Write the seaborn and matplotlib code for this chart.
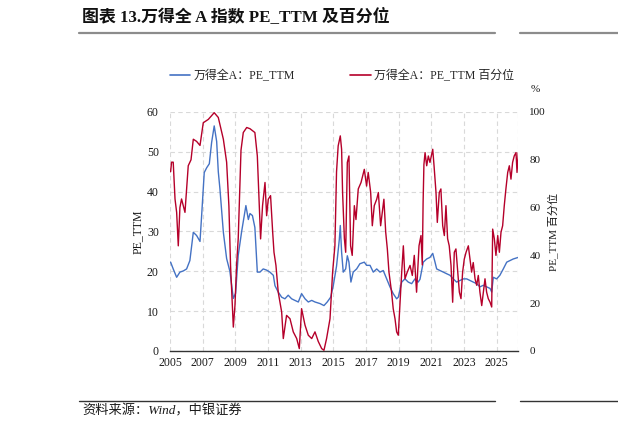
"""
Wind All A index: PE_TTM and its historical percentile (dual axis line chart)
"""
import pandas as pd
import matplotlib
matplotlib.use("Agg")
import matplotlib.pyplot as plt
from matplotlib.lines import Line2D
import seaborn as sns

# -------------------------------------------------------------------
# 1. DATA (x in decimal years)
# -------------------------------------------------------------------
pe_years = [
    2005.04, 2005.20, 2005.41, 2005.61, 2005.82, 2006.02, 2006.22, 2006.43, 2006.63, 2006.84,
    2006.94, 2007.10, 2007.25, 2007.41, 2007.55, 2007.71, 2007.86, 2007.96, 2008.06, 2008.27,
    2008.47, 2008.67, 2008.88, 2009.02, 2009.18, 2009.39, 2009.65, 2009.80, 2009.90, 2010.05,
    2010.20, 2010.35, 2010.51, 2010.71, 2010.92, 2011.12, 2011.33, 2011.43, 2011.63, 2011.84,
    2012.04, 2012.24, 2012.45, 2012.65, 2012.86, 2013.06, 2013.27, 2013.47, 2013.68, 2013.88,
    2014.19, 2014.43, 2014.63, 2014.84, 2015.00, 2015.20, 2015.37, 2015.43, 2015.51, 2015.61,
    2015.76, 2015.86, 2015.96, 2016.08, 2016.22, 2016.43, 2016.63, 2016.90, 2017.04, 2017.25,
    2017.45, 2017.66, 2017.86, 2018.06, 2018.27, 2018.47, 2018.67, 2018.88, 2018.98, 2019.19,
    2019.39, 2019.59, 2019.80, 2020.00, 2020.20, 2020.31, 2020.51, 2020.72, 2020.92, 2021.09,
    2021.23, 2021.33, 2021.53, 2021.74, 2021.94, 2022.15, 2022.35, 2022.55, 2022.76, 2022.96,
    2023.17, 2023.37, 2023.57, 2023.78, 2023.98, 2024.19, 2024.39, 2024.60, 2024.70, 2024.80,
    2025.00, 2025.20, 2025.41, 2025.62, 2025.82, 2026.02, 2026.33,
]
pe_values = [
    22.3, 20.6, 18.5, 19.8, 20.1, 20.6, 22.7, 29.8, 29.0, 27.5,
    34.0, 44.8, 46.0, 47.0, 52.3, 56.5, 52.6, 45.0, 40.7, 29.8,
    23.2, 20.0, 13.2, 14.5, 24.0, 30.0, 36.5, 33.0, 34.5, 34.0,
    31.0, 19.8, 19.8, 20.6, 20.3, 19.8, 19.0, 16.4, 14.8, 13.5,
    13.1, 14.0, 13.1, 12.7, 12.3, 14.4, 13.1, 12.3, 12.7, 12.3,
    11.9, 11.4, 12.3, 13.5, 16.4, 21.3, 28.0, 31.5, 24.8, 19.8,
    20.6, 23.9, 22.3, 17.3, 19.8, 20.6, 21.9, 22.3, 21.5, 21.5,
    19.8, 20.6, 19.8, 20.2, 18.1, 16.1, 14.4, 13.1, 13.5, 17.3,
    18.1, 17.3, 16.9, 18.1, 17.3, 18.0, 22.3, 23.1, 23.5, 24.5,
    22.3, 20.6, 20.2, 19.8, 19.4, 19.0, 18.1, 17.3, 17.7, 18.1,
    18.1, 17.7, 17.3, 16.9, 16.1, 16.5, 16.1, 15.7, 14.8, 18.5,
    18.1, 19.0, 20.6, 22.3, 22.7, 23.1, 23.5,
]

pct_years = [
    2005.04, 2005.10, 2005.20, 2005.31, 2005.41, 2005.51, 2005.61, 2005.71, 2005.92, 2006.02,
    2006.12, 2006.29, 2006.43, 2006.63, 2006.84, 2007.04, 2007.35, 2007.71, 2007.96, 2008.27,
    2008.47, 2008.61, 2008.71, 2008.88, 2008.98, 2009.08, 2009.18, 2009.35, 2009.49, 2009.70,
    2009.90, 2010.20, 2010.35, 2010.47, 2010.55, 2010.67, 2010.82, 2010.92, 2011.02, 2011.16,
    2011.29, 2011.37, 2011.49, 2011.63, 2011.84, 2011.94, 2012.14, 2012.35, 2012.55, 2012.76,
    2012.92, 2013.06, 2013.27, 2013.47, 2013.68, 2013.88, 2014.08, 2014.29, 2014.43, 2014.59,
    2014.80, 2014.96, 2015.10, 2015.20, 2015.30, 2015.43, 2015.51, 2015.57, 2015.68, 2015.76,
    2015.86, 2015.96, 2016.06, 2016.16, 2016.29, 2016.39, 2016.53, 2016.70, 2016.90, 2017.04,
    2017.14, 2017.29, 2017.39, 2017.51, 2017.66, 2017.76, 2017.90, 2018.00, 2018.10, 2018.21,
    2018.31, 2018.41, 2018.57, 2018.67, 2018.78, 2018.88, 2018.98, 2019.08, 2019.19, 2019.29,
    2019.39, 2019.53, 2019.70, 2019.84, 2019.96, 2020.10, 2020.25, 2020.37, 2020.45, 2020.50,
    2020.55, 2020.62, 2020.72, 2020.82, 2020.92, 2021.09, 2021.17, 2021.29, 2021.37, 2021.49,
    2021.59, 2021.70, 2021.80, 2021.90, 2022.00, 2022.10, 2022.21, 2022.31, 2022.41, 2022.51,
    2022.62, 2022.72, 2022.82, 2022.92, 2023.02, 2023.13, 2023.27, 2023.37, 2023.47, 2023.57,
    2023.68, 2023.78, 2023.88, 2023.98, 2024.09, 2024.19, 2024.29, 2024.39, 2024.49, 2024.60,
    2024.70, 2024.76, 2024.86, 2024.96, 2025.07, 2025.17, 2025.27, 2025.37, 2025.47, 2025.57,
    2025.68, 2025.78, 2025.88, 2025.98, 2026.08, 2026.19, 2026.25, 2026.33,
]
pct_values = [
    75.0, 79.0, 79.0, 63.6, 58.0, 44.0, 60.0, 63.6, 58.0, 68.0,
    77.5, 80.0, 88.6, 87.7, 86.0, 95.5, 96.9, 99.7, 97.7, 88.6,
    79.0, 60.6, 35.8, 10.0, 19.0, 35.8, 47.0, 84.0, 91.4, 93.5,
    93.0, 91.4, 81.6, 60.8, 46.9, 60.8, 70.5, 56.6, 63.5, 65.0,
    49.7, 41.3, 35.8, 24.6, 16.3, 5.2, 14.9, 13.5, 8.0, 5.2,
    1.0, 17.7, 10.8, 6.6, 5.2, 8.0, 4.0, 1.0, 0.3, 5.2,
    13.5, 33.0, 44.0, 75.0, 85.8, 90.0, 84.4, 66.3, 47.0, 41.3,
    78.9, 81.6, 44.0, 40.0, 60.8, 55.0, 67.8, 70.5, 76.0, 69.0,
    74.7, 66.3, 52.4, 60.8, 63.5, 66.3, 52.4, 58.0, 63.5, 49.7,
    42.7, 33.0, 24.6, 17.7, 13.5, 8.0, 6.6, 19.0, 33.0, 44.0,
    30.2, 33.0, 35.8, 31.6, 40.0, 24.6, 44.0, 48.3, 36.0, 62.0,
    78.0, 83.0, 77.5, 81.6, 78.9, 84.4, 77.5, 66.3, 53.8, 66.3,
    67.8, 52.4, 48.3, 60.8, 47.0, 44.0, 35.8, 20.4, 41.3, 42.7,
    33.0, 24.6, 21.9, 33.0, 38.4, 41.3, 44.0, 38.4, 33.0, 37.0,
    30.2, 27.5, 31.6, 24.6, 19.0, 24.6, 30.2, 24.6, 21.9, 20.4,
    18.4, 51.0, 47.0, 40.0, 48.3, 41.3, 49.7, 52.4, 60.8, 67.8,
    74.7, 77.5, 71.9, 78.9, 81.6, 83.0, 74.7, 83.0,
]

x_ticks = [2005, 2007, 2009, 2011, 2013, 2015, 2017, 2019, 2021, 2023, 2025]
left_ticks = [0, 10, 20, 30, 40, 50, 60]
right_ticks = [0, 20, 40, 60, 80, 100]

pe_label = "万得全A：PE_TTM"
pct_label = "万得全A：PE_TTM 百分位"

df_pe = pd.DataFrame({"year": pe_years, "pe": pe_values})
df_pct = pd.DataFrame({"year": pct_years, "pct": pct_values})

# -------------------------------------------------------------------
# 2. STYLE
# -------------------------------------------------------------------
sns.set_theme(style="white")
plt.rcParams["font.family"] = ["Liberation Serif", "Noto Sans CJK SC"]
plt.rcParams["axes.unicode_minus"] = False

BLUE = "#4472C4"
RED = "#B5002A"
TEXT = "#1a1a1a"

fig = plt.figure(figsize=(6.18, 4.33), dpi=100)
ax = fig.add_axes([0.275, 0.1894, 0.5637, 0.552])
ax2 = ax.twinx()

# -------------------------------------------------------------------
# 3. LINES
# -------------------------------------------------------------------
sns.lineplot(data=df_pe, x="year", y="pe", ax=ax, color=BLUE, linewidth=1.0, legend=False)
sns.lineplot(data=df_pct, x="year", y="pct", ax=ax2, color=RED, linewidth=1.0, legend=False)

ax.set_xlim(2005, 2026.33)
ax.set_ylim(0, 60)
ax2.set_ylim(0, 100)
ax.set_xticks(x_ticks)
ax.set_yticks(left_ticks)
ax2.set_yticks(right_ticks)

ax.grid(True, axis="both", linestyle=(0, (4, 3)), color="#d9d9d9", linewidth=0.8)
ax2.grid(False)
ax.axvline(2026.33, linestyle=(0, (4, 3)), color="#d9d9d9", linewidth=0.8)

for a in (ax, ax2):
    for side in ("top", "left", "right", "bottom"):
        a.spines[side].set_visible(False)
ax.spines["bottom"].set_visible(True)
ax.spines["bottom"].set_color("#333333")
ax.spines["bottom"].set_linewidth(1.0)

ax.tick_params(axis="x", direction="in", length=4, width=0.8, color="#333333",
               labelsize=8.5, labelcolor=TEXT, pad=4)
ax.tick_params(axis="y", length=0, labelsize=8.5, labelcolor=TEXT, pad=8)
ax2.tick_params(axis="y", length=0, labelsize=8, labelcolor=TEXT, pad=8)

ax.set_xlabel("")
ax.set_ylabel("PE_TTM", fontsize=8.5, color=TEXT, labelpad=2)
ax2.set_ylabel("PE_TTM 百分位", fontsize=8, color=TEXT, labelpad=1)

# percent unit above the right axis
fig.text(535 / 618, 1 - 89 / 433, "%", fontsize=8, color=TEXT, ha="center", va="center")

# -------------------------------------------------------------------
# 4. LEGEND
# -------------------------------------------------------------------
handles = [Line2D([], [], color=BLUE, linewidth=1.2),
           Line2D([], [], color=RED, linewidth=1.2)]
fig.legend(handles, [pe_label, pct_label], loc="center left",
           bbox_to_anchor=(170 / 618, 1 - 76 / 433), ncol=2, frameon=False,
           fontsize=8.6, handlelength=1.7, handletextpad=0.3, columnspacing=4.6,
           borderaxespad=0, borderpad=0)

# -------------------------------------------------------------------
# 5. TITLE, RULES AND SOURCE
# -------------------------------------------------------------------
fig.text(82 / 618, 1 - 17 / 433, "图表 13.万得全 A 指数 PE_TTM 及百分位",
         fontsize=12.2, fontweight="bold", color="#111111", ha="left", va="center")

for y_px, col, lw in ((33, "#8c8c8c", 1.6), (401, "#333333", 1.0)):
    fig.add_artist(Line2D([79 / 618, 495 / 618], [1 - y_px / 433] * 2,
                          color=col, linewidth=lw, transform=fig.transFigure))
    fig.add_artist(Line2D([520 / 618, 1.0], [1 - y_px / 433] * 2,
                          color=col, linewidth=lw, transform=fig.transFigure))

fig.text(82 / 618, 1 - 411 / 433, "资料来源：Wind，中银证券", fontsize=9.5,
         style="italic", color=TEXT, ha="left", va="center")

fig.savefig("out.png", dpi=100)
